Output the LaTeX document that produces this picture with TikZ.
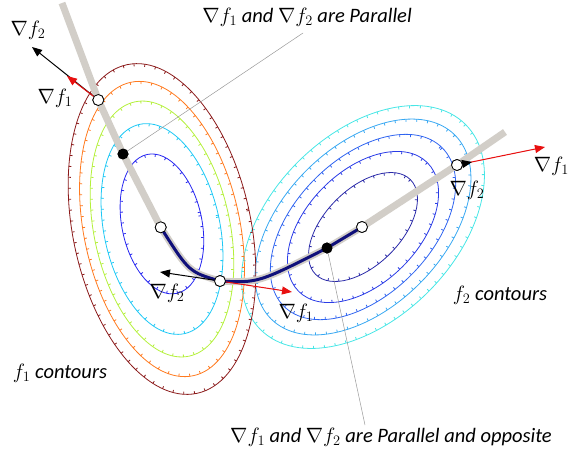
\documentclass[tikz,border=0pt]{standalone}
\usepackage{fontspec}
\setmainfont{Carlito}
\usetikzlibrary{arrows.meta,decorations.markings}
\definecolor{cDR}{HTML}{8B1A1A}
\definecolor{cOR}{HTML}{FF7A1F}
\definecolor{cYG}{HTML}{B4F03C}
\definecolor{cCY}{HTML}{1EC8F5}
\definecolor{cBL}{HTML}{2626F0}
\definecolor{gA}{HTML}{2A2AA8}
\definecolor{gB}{HTML}{2A3CE6}
\definecolor{gC}{HTML}{2F64F0}
\definecolor{gD}{HTML}{38A8F2}
\definecolor{gE}{HTML}{48E6E6}
\definecolor{pathgray}{HTML}{D2CEC8}
\definecolor{navyline}{HTML}{10107A}
\definecolor{redarrow}{HTML}{E81010}
\tikzset{
  contour/.style={draw=#1, color=#1, line width=0.8pt,
    postaction={decorate, decoration={markings,
      mark=between positions 0 and 1 step 11pt with {\draw[line width=0.8pt] (0,0) -- (0,-2.6pt);}}}},
  graypath/.style={draw=pathgray, line width=7pt, line join=round},
  navypath/.style={draw=navyline, line width=3pt, line cap=round},
  opencirc/.style={circle, draw=black, fill=white, line width=0.8pt, minimum size=11pt, inner sep=0pt},
  fillcirc/.style={circle, fill=black, minimum size=11pt, inner sep=0pt},
  karrow/.style={draw=black, line width=1pt, -{Triangle[length=10pt,width=8pt]}},
  rarrow/.style={draw=redarrow, fill=redarrow, line width=1pt, -{Triangle[length=10pt,width=8pt]}},
  leader/.style={draw=gray!80, line width=0.5pt},
  lab/.style={font=\fontsize{20.5}{24}\selectfont\itshape, inner sep=0pt},
  glab/.style={font=\fontsize{21}{24}\selectfont, inner sep=0pt}
}
\begin{document}
\begin{tikzpicture}[x=1pt,y=-1pt]
\useasboundingbox (0,0) rectangle (570,459);
% f2 contours
\begin{scope}[rotate around={45:(363,227)}]
  \draw[contour=gE] (363,227) ellipse [x radius=145, y radius=92];
  \draw[contour=gD] (363,227) ellipse [x radius=130, y radius=80];
  \draw[contour=gC] (363,227) ellipse [x radius=112, y radius=68];
  \draw[contour=gB] (363,227) ellipse [x radius=91, y radius=56];
  \draw[contour=gA] (363,227) ellipse [x radius=67, y radius=38];
\end{scope}
% f1 contours
\begin{scope}[rotate around={12:(162,229)}]
  \draw[contour=cDR] (162,229) ellipse [x radius=89, y radius=168];
  \draw[contour=cOR] (162,229) ellipse [x radius=78, y radius=150];
  \draw[contour=cYG] (162,229) ellipse [x radius=68, y radius=130];
  \draw[contour=cCY] (162,229) ellipse [x radius=58, y radius=107];
  \draw[contour=cBL] (163,224) ellipse [x radius=40, y radius=71];
\end{scope}
% key points
\coordinate (G0) at (62,3);
\coordinate (G1) at (505,132);
\node[opencirc] (P1) at (98.3,100) {};
\node[fillcirc] (Q1) at (123,154) {};
\node[opencirc] (P2) at (160.7,227.3) {};
\node[opencirc] (P3) at (220,281) {};
\node[fillcirc] (Q2) at (327,248) {};
\node[opencirc] (P4) at (362,227) {};
\node[opencirc] (P5) at (457,165) {};
% leaders
\coordinate (L1) at (303,33);
\coordinate (L2) at (365,425);
\draw[leader] (Q1.center) -- (L1);
\draw[leader] (Q2.center) -- (L2);
% path
\draw[graypath] (G0) -- (P1.center) -- (Q1.center) -- (P2.center)
  .. controls (189,272) .. (P3.center)
  .. controls (258,283) .. (Q2.center) -- (P4.center) -- (P5.center) -- (G1);
\draw[navypath] (P2.center) .. controls (189,272) .. (P3.center)
  .. controls (258,283) .. (Q2.center) -- (P4.center);
% arrows
\coordinate (A1k) at (32,47);
\coordinate (A1r) at (67,76);
\coordinate (A3k) at (160,272);
\coordinate (A3r) at (292,292);
\coordinate (A5k) at (472,162);
\coordinate (A5r) at (545,147);
\draw[karrow] (P1) -- (A1k);
\draw[rarrow] (P1) -- (A1r);
\draw[karrow] (P3) -- (A3k);
\draw[rarrow] (P3) -- (A3r);
\draw[rarrow] (P5) -- (A5r);
\draw[karrow] (P5) -- (A5k);
% circles redrawn on top
\node[opencirc] at (P1) {};
\node[fillcirc] at (Q1) {};
\node[opencirc] at (P2) {};
\node[opencirc] at (P3) {};
\node[fillcirc] at (Q2) {};
\node[opencirc] at (P4) {};
\node[opencirc] at (P5) {};
% labels
\node[glab] (n1) at (28,30) {$\nabla f_2$};
\node[glab] (n2) at (55,98) {$\nabla f_1$};
\node[glab] (n3) at (167,293) {$\nabla f_2$};
\node[glab] (n4) at (296,313) {$\nabla f_1$};
\node[glab] (n5) at (467,190) {$\nabla f_2$};
\node[glab,anchor=east] (n6) at (569,166) {$\nabla f_1$};
\node[lab] (T1) at (307,17) {$\nabla f_1$ and $\nabla f_2$ are Parallel};
\node[lab] (T2) at (391,437) {$\nabla f_1$ and $\nabla f_2$ are Parallel and opposite};
\node[lab] (C1) at (60,373) {$f_1$ contours};
\node[lab] (C2) at (500,295) {$f_2$ contours};
\end{tikzpicture}
\end{document}
